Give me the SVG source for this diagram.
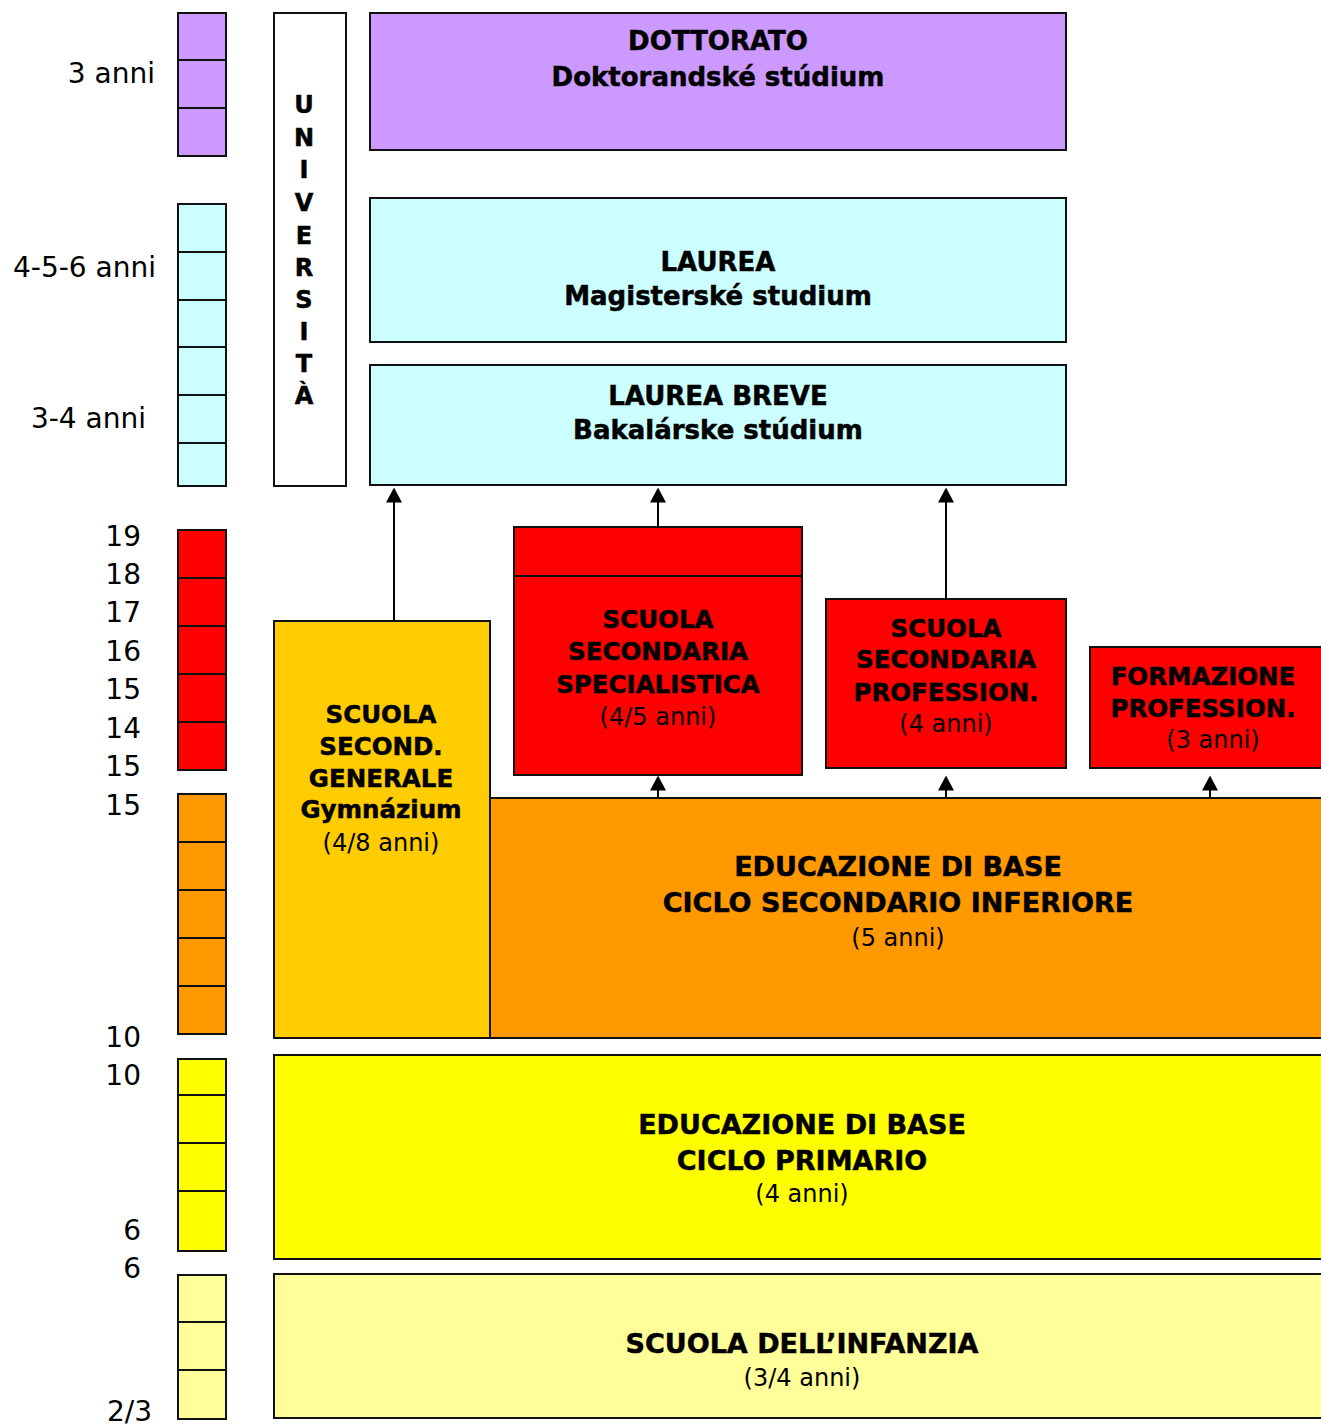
<svg xmlns="http://www.w3.org/2000/svg" width="1321" height="1428" viewBox="0 0 1321 1428">
<style>
.box{stroke:#111;stroke-width:2}
.div{stroke:#111;stroke-width:2;fill:none}
.lbl{font-family:"DejaVu Sans",Verdana,sans-serif;font-size:28px;fill:#000}
.b{font-family:"DejaVu Sans",Verdana,sans-serif;font-weight:bold;fill:#000;text-anchor:middle;stroke:#000;stroke-width:0.5}
.r{font-family:"DejaVu Sans",Verdana,sans-serif;fill:#000;text-anchor:middle;font-size:24px}
.b26{font-size:26px}
.b27{font-size:27px}
.b25{font-size:24.5px}
.uni{font-family:"DejaVu Sans",Verdana,sans-serif;font-weight:bold;font-size:24px;text-anchor:middle;stroke:#000;stroke-width:0.5}
.pur{fill:#CC99FF}.cya{fill:#CCFFFF}.red{fill:#FF0000}.gold{fill:#FFCC00}.ora{fill:#FF9900}.yel{fill:#FFFF00}.lyel{fill:#FFFF99}
.conn{stroke:#000;stroke-width:2;fill:none}
</style>
<defs>
<marker id="ah" markerUnits="userSpaceOnUse" markerWidth="16" markerHeight="16" refX="0.5" refY="8" orient="auto" viewBox="0 0 16 16">
<path d="M0,0 L15,8 L0,16 Z" fill="#000"/>
</marker>
</defs>
<rect width="1321" height="1428" fill="#fff"/>

<g id="scale">
<rect class="box pur" x="178" y="13" width="48" height="143"/>
<path class="div" d="M178,60H226M178,108H226"/>
<rect class="box cya" x="178" y="204" width="48" height="282"/>
<path class="div" d="M178,252H226M178,300H226M178,347H226M178,395H226M178,443H226"/>
<rect class="box red" x="178" y="530" width="48" height="240"/>
<path class="div" d="M178,578H226M178,626H226M178,674H226M178,722H226"/>
<rect class="box ora" x="178" y="794" width="48" height="240"/>
<path class="div" d="M178,842H226M178,890H226M178,938H226M178,986H226"/>
<rect class="box yel" x="178" y="1059" width="48" height="192"/>
<path class="div" d="M178,1095H226M178,1143H226M178,1191H226"/>
<rect class="box lyel" x="178" y="1275" width="48" height="144"/>
<path class="div" d="M178,1322H226M178,1370H226"/>
<text class="lbl" x="155" y="83" text-anchor="end">3 anni</text>
<text class="lbl" x="156" y="277" text-anchor="end">4-5-6 anni</text>
<text class="lbl" x="146" y="428" text-anchor="end">3-4 anni</text>
<text class="lbl" x="141" y="546" text-anchor="end">19</text>
<text class="lbl" x="141" y="584" text-anchor="end">18</text>
<text class="lbl" x="141" y="622" text-anchor="end">17</text>
<text class="lbl" x="141" y="661" text-anchor="end">16</text>
<text class="lbl" x="141" y="699" text-anchor="end">15</text>
<text class="lbl" x="141" y="738" text-anchor="end">14</text>
<text class="lbl" x="141" y="776" text-anchor="end">15</text>
<text class="lbl" x="141" y="815" text-anchor="end">15</text>
<text class="lbl" x="141" y="1047" text-anchor="end">10</text>
<text class="lbl" x="141" y="1085" text-anchor="end">10</text>
<text class="lbl" x="141" y="1240" text-anchor="end">6</text>
<text class="lbl" x="141" y="1278" text-anchor="end">6</text>
<text class="lbl" x="107" y="1421">2/3</text>
</g>

<g id="universita">
<rect class="box" fill="#fff" x="274" y="13" width="72" height="473"/>
<text class="uni" x="304" y="113">U</text>
<text class="uni" x="304" y="146">N</text>
<text class="uni" x="304" y="178">I</text>
<text class="uni" x="304" y="211">V</text>
<text class="uni" x="304" y="244">E</text>
<text class="uni" x="304" y="276">R</text>
<text class="uni" x="304" y="308">S</text>
<text class="uni" x="304" y="340">I</text>
<text class="uni" x="304" y="372">T</text>
<text class="uni" x="304" y="404">À</text>
</g>

<g id="dottorato">
<rect class="box pur" x="370" y="13" width="696" height="137"/>
<text class="b b26" x="718" y="50">DOTTORATO</text>
<text class="b b26" x="718" y="86">Doktorandské stúdium</text>
</g>

<g id="laurea">
<rect class="box cya" x="370" y="198" width="696" height="144"/>
<text class="b b26" x="718" y="271">LAUREA</text>
<text class="b b26" x="718" y="305">Magisterské studium</text>
</g>

<g id="laurea-breve">
<rect class="box cya" x="370" y="365" width="696" height="120"/>
<text class="b b26" x="718" y="405">LAUREA BREVE</text>
<text class="b b26" x="718" y="439">Bakalárske stúdium</text>
</g>

<g id="educazione-secondaria">
<rect class="box ora" x="466" y="798" width="870" height="240"/>
<text class="b b27" x="898" y="876">EDUCAZIONE DI BASE</text>
<text class="b b27" x="898" y="912">CICLO SECONDARIO INFERIORE</text>
<text class="r" x="898" y="946">(5 anni)</text>
</g>

<g id="gymnazium">
<rect class="box gold" x="274" y="621" width="216" height="417"/>
<text class="b b25" x="381" y="723">SCUOLA</text>
<text class="b b25" x="381" y="755">SECOND.</text>
<text class="b b25" x="381" y="787">GENERALE</text>
<text class="b b25" x="381" y="818">Gymnázium</text>
<text class="r" x="381" y="851">(4/8 anni)</text>
</g>

<g id="specialistica">
<rect class="box red" x="514" y="527" width="288" height="248"/>
<path class="div" d="M514,576H802"/>
<text class="b b25" x="658" y="628">SCUOLA</text>
<text class="b b25" x="658" y="660">SECONDARIA</text>
<text class="b b25" x="658" y="693">SPECIALISTICA</text>
<text class="r" x="658" y="725">(4/5 anni)</text>
</g>

<g id="professionale">
<rect class="box red" x="826" y="599" width="240" height="169"/>
<text class="b b25" x="946" y="637">SCUOLA</text>
<text class="b b25" x="946" y="668">SECONDARIA</text>
<text class="b b25" x="946" y="701">PROFESSION.</text>
<text class="r" x="946" y="732">(4 anni)</text>
</g>

<g id="formazione">
<rect class="box red" x="1090" y="647" width="250" height="121"/>
<text class="b b25" x="1203" y="685">FORMAZIONE</text>
<text class="b b25" x="1203" y="717">PROFESSION.</text>
<text class="r" x="1213" y="748">(3 anni)</text>
</g>

<g id="primario">
<rect class="box yel" x="274" y="1055" width="1066" height="204"/>
<text class="b b27" x="802" y="1134">EDUCAZIONE DI BASE</text>
<text class="b b27" x="802" y="1170">CICLO PRIMARIO</text>
<text class="r" x="802" y="1202">(4 anni)</text>
</g>

<g id="infanzia">
<rect class="box lyel" x="274" y="1274" width="1066" height="144"/>
<text class="b b27" x="802" y="1353">SCUOLA DELL’INFANZIA</text>
<text class="r" x="802" y="1386">(3/4 anni)</text>
</g>

<g id="connectors">
<path class="conn" d="M394,620V502" marker-end="url(#ah)"/>
<path class="conn" d="M658,527V502" marker-end="url(#ah)"/>
<path class="conn" d="M946,599V502" marker-end="url(#ah)"/>
<path class="conn" d="M658,798V790" marker-end="url(#ah)"/>
<path class="conn" d="M946,798V790" marker-end="url(#ah)"/>
<path class="conn" d="M1210,798V790" marker-end="url(#ah)"/>
</g>
</svg>
